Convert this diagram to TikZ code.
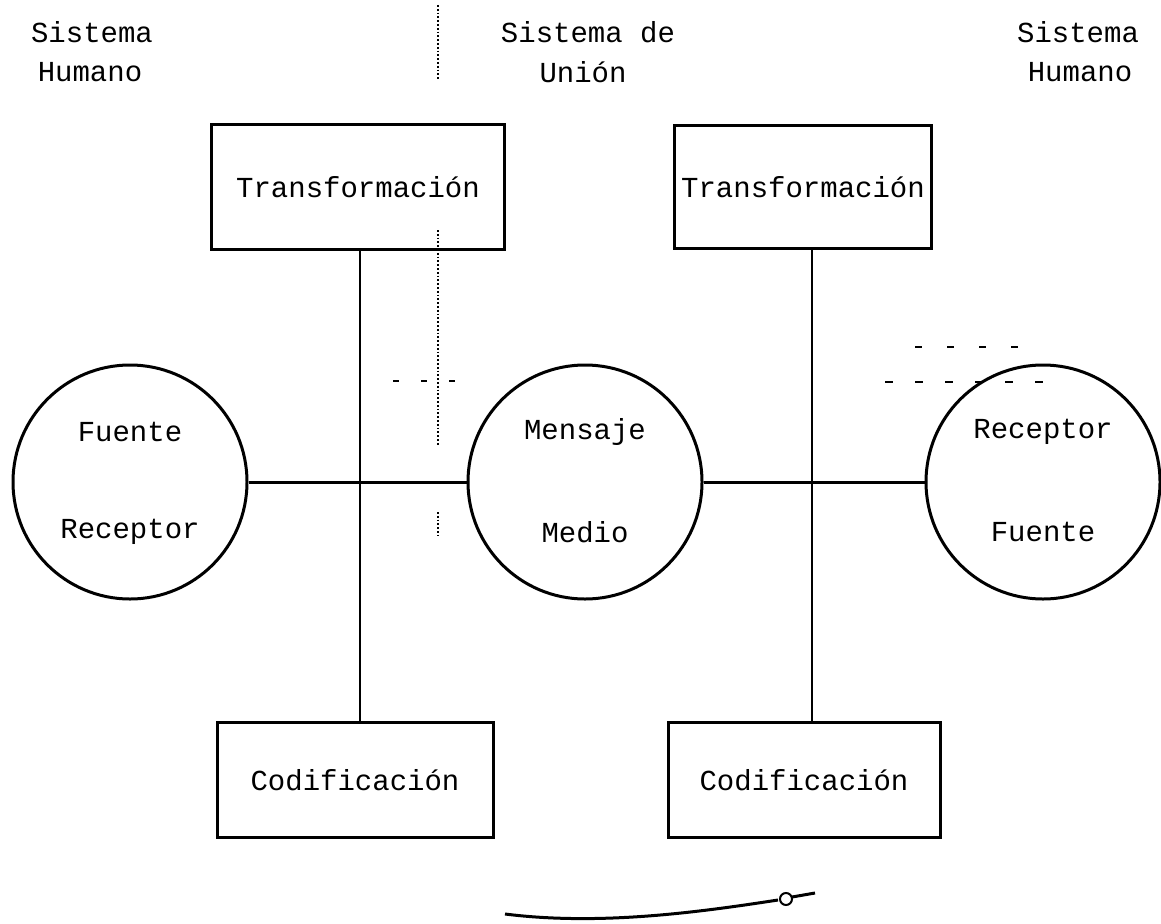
\documentclass[tikz,border=0pt]{standalone}
\usepackage{fontspec}
\setmainfont{Liberation Mono}
\def\ux{1pt}
\def\uy{-1pt}

\begin{document}
\begin{tikzpicture}[x=\ux,y=\uy, font=\fontsize{29}{34}\selectfont, line width=3pt,
		caja/.style={draw, rectangle, inner sep=0pt},
		bola/.style={draw, circle, minimum size=234, inner sep=0pt},
		rotulo/.style={inner sep=1pt}]
		\useasboundingbox (0,0) rectangle (1161,923);

		% encabezados
		\node[rotulo] (sh1) at (92,32) {Sistema};
		\node[rotulo] (hu1) at (90,72) {Humano};
		\node[rotulo] (su) at (588,32) {Sistema de};
		\node[rotulo] (un) at (583,72) {Unión};
		\node[rotulo] (sh2) at (1078,32) {Sistema};
		\node[rotulo] (hu2) at (1080,72) {Humano};

		% cajas
		\node[caja, minimum width=293, minimum height=124] (transA) at (358,187) {Transformación};
		\node[caja, minimum width=257, minimum height=123] (transB) at (803,187) {Transformación};
		\node[caja, minimum width=276, minimum height=115] (codA) at (355,780) {Codificación};
		\node[caja, minimum width=272, minimum height=115] (codB) at (804,780) {Codificación};

		% circulos
		\node[bola] (fuente) at (130,482) {};
		\node[bola] (mensaje) at (585,482) {};
		\node[bola] (receptor) at (1043,482) {};
		\foreach \c/\a/\b in {fuente/Fuente/Receptor, mensaje/Mensaje/Medio, receptor/Receptor/Fuente}{
			\node[rotulo] (\c-a) at ([yshift=50]\c.center) {\a};
			\node[rotulo] (\c-b) at ([yshift=-50]\c.center) {\b};
		}

		% lineas
		\coordinate (vA) at (360,0);
		\coordinate (vB) at (812,0);
		\draw[line width=2.4pt] (transA.south -| vA) -- (codA.north -| vA);
		\draw[line width=2.4pt] (transB.south -| vB) -- (codB.north -| vB);
		\draw (fuente.east) -- (mensaje.west);
		\draw (mensaje.east) -- (receptor.west);

		% trazos punteados
		\begin{scope}[line width=1.8pt]
			\draw[dotted] (438,5) -- (438,80);
			\draw[dotted] (438,230) -- (438,445);
			\draw[dotted] (438,512) -- (438,535);
			\draw[dash pattern=on 6pt off 22pt] (393,381) -- (460,381);
			\draw[dash pattern=on 7pt off 25pt] (915,347) -- (1040,347);
			\draw[dash pattern=on 8pt off 22pt] (885,382) -- (1057,382);
		\end{scope}

		% curva inferior
		\coordinate (c0) at (505,914);
		\coordinate (c1) at (778,900);
		\draw[line width=3pt] (c0) .. controls (600,926) and (700,912) .. (c1);
		\draw[line width=2pt] (786,899) circle (6);
		\draw[line width=3pt] (792,897) -- (815,893);
\end{tikzpicture}
\end{document}
